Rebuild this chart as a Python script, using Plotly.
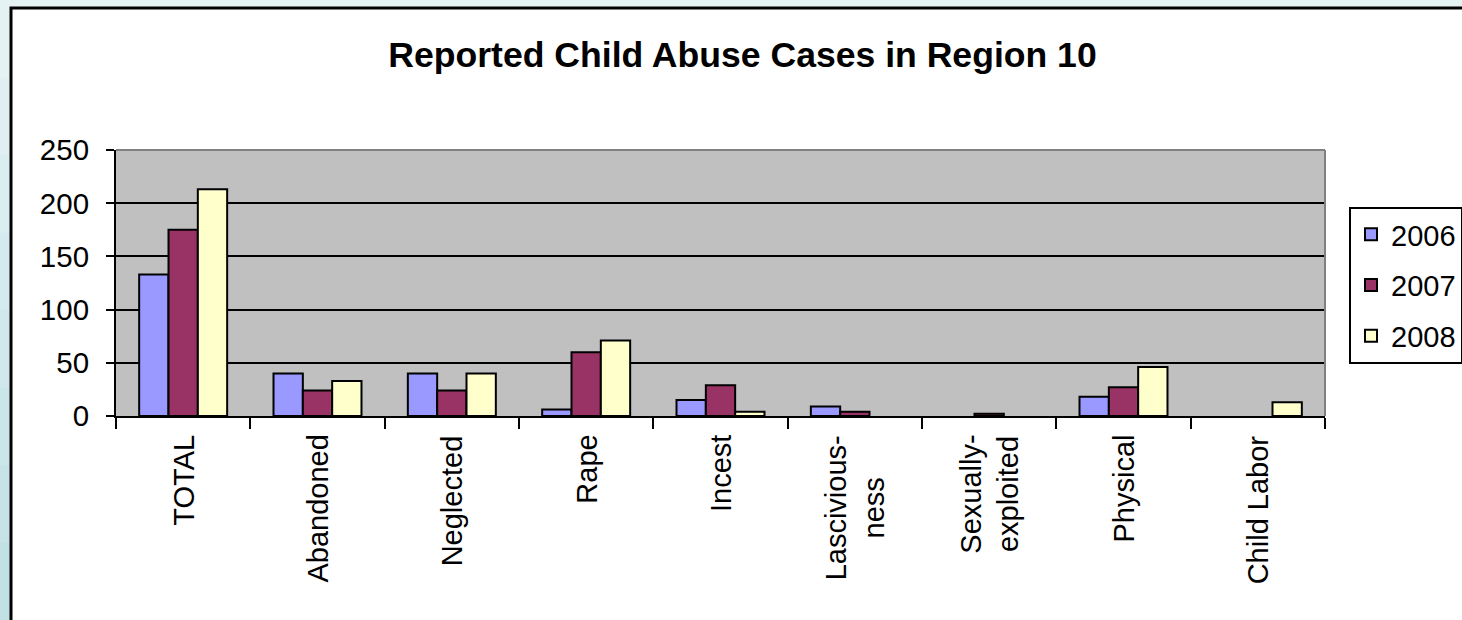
import plotly.graph_objects as go

categories = ["TOTAL", "Abandoned", "Neglected", "Rape", "Incest",
              "Lascivious-<br>ness", "Sexually-<br>exploited", "Physical", "Child Labor"]
cat_keys = ["TOTAL", "Abandoned", "Neglected", "Rape", "Incest",
            "Lasciviousness", "Sexually-exploited", "Physical", "Child Labor"]
years = ["2006", "2007", "2008"]
v2006 = [133, 40, 40, 6, 15, 9, 0, 18, 0]
v2007 = [175, 24, 24, 60, 29, 4, 2, 27, 0]
v2008 = [213, 33, 40, 71, 4, 0, 0, 46, 13]
y_ticks = [0, 50, 100, 150, 200, 250]

colors = ["#9999FF", "#993366", "#FFFFCC"]
series = [v2006, v2007, v2008]

W, H = 1462, 620
L, R, T, B = 116, 1325, 150, 416

def px(x):
    return (x - L) / (R - L)

def py(y):
    return (B - y) / (B - T)

FONT = "Liberation Sans, Arial, sans-serif"

fig = go.Figure()
for yr, vals, c in zip(years, series, colors):
    fig.add_trace(go.Bar(
        name=yr, x=cat_keys, y=[v if v else None for v in vals], legendgroup=yr,
        marker=dict(color=c, line=dict(color="black", width=2)),
    ))

shapes = []
# light cyan backdrop gradient on the left strip
band_cols = ["#e4f2f4", "#dfeff2", "#daedf0", "#d5eaee", "#d0e8eb",
             "#cbe6e9", "#c6e3e7", "#c1e1e5"]
nb = len(band_cols)
for i, bc in enumerate(band_cols):
    shapes.append(dict(type="rect", xref="paper", yref="paper", layer="below",
                       x0=px(-5), x1=px(12), y0=py(H * (i + 1) / nb + 1), y1=py(H * i / nb),
                       fillcolor=bc, line=dict(width=0)))
shapes += [
    # white chart frame
    dict(type="rect", xref="paper", yref="paper", layer="below",
         x0=px(11), x1=px(1600), y0=py(700), y1=py(8),
         fillcolor="white", line=dict(color="black", width=3)),
    # plot area
    dict(type="rect", xref="paper", yref="paper", layer="below",
         x0=0, x1=1, y0=0, y1=1, fillcolor="#C0C0C0", line=dict(width=0)),
    # gray top/right border
    dict(type="line", xref="paper", yref="paper", layer="above",
         x0=0, x1=1, y0=1, y1=1, line=dict(color="#808080", width=2)),
    dict(type="line", xref="paper", yref="paper", layer="above",
         x0=1, x1=1, y0=0, y1=1, line=dict(color="#808080", width=2)),
]

annotations = []
for key, lab in zip(cat_keys, categories):
    annotations.append(dict(
        x=key, xref="x", y=py(433), yref="paper", text=lab,
        textangle=-90, xanchor="center", yanchor="top", showarrow=False,
        align="center", font=dict(family=FONT, size=29, color="black"),
    ))

fig.update_layout(
    width=W, height=H,
    margin=dict(l=L, r=W - R, t=T, b=H - B, autoexpand=False),
    paper_bgcolor="#e4f2f4",
    plot_bgcolor="rgba(0,0,0,0)",
    barmode="group", bargap=0.345, bargroupgap=0,
    title=dict(text="<b>Reported Child Abuse Cases in Region 10</b>",
               x=px(742.5), xref="paper", xanchor="center",
               y=1 - 55 / H, yref="container", yanchor="middle",
               font=dict(family=FONT, size=35.6, color="black")),
    font=dict(family=FONT, size=29, color="black"),
    shapes=shapes,
    annotations=annotations,
    showlegend=True,
    legend=dict(x=px(1349), y=py(207), xanchor="left", yanchor="top",
                bgcolor="white", bordercolor="black", borderwidth=2,
                font=dict(family=FONT, size=29, color="black"),
                tracegroupgap=10, traceorder="grouped"),
    xaxis=dict(type="category", categoryorder="array", categoryarray=cat_keys,
               range=[-0.5, len(cat_keys) - 0.5],
               showticklabels=False, showgrid=False, zeroline=False,
               showline=True, linecolor="black", linewidth=2,
               ticks="outside", tickson="boundaries", ticklen=11,
               tickwidth=2, tickcolor="black"),
    yaxis=dict(range=[0, 250], tickvals=y_ticks, ticktext=[str(v) for v in y_ticks],
               showgrid=True, gridcolor="black", gridwidth=2, zeroline=False,
               showline=True, linecolor="black", linewidth=2,
               ticks="outside", ticklen=8, tickwidth=2, tickcolor="black",
               ticklabelstandoff=11,
               tickfont=dict(family=FONT, size=29.5, color="black")),
)

fig.write_html(
    "out.html",
    config={"displayModeBar": False},
    post_script="document.body.style.margin='0';document.body.style.overflow='hidden';",
)
